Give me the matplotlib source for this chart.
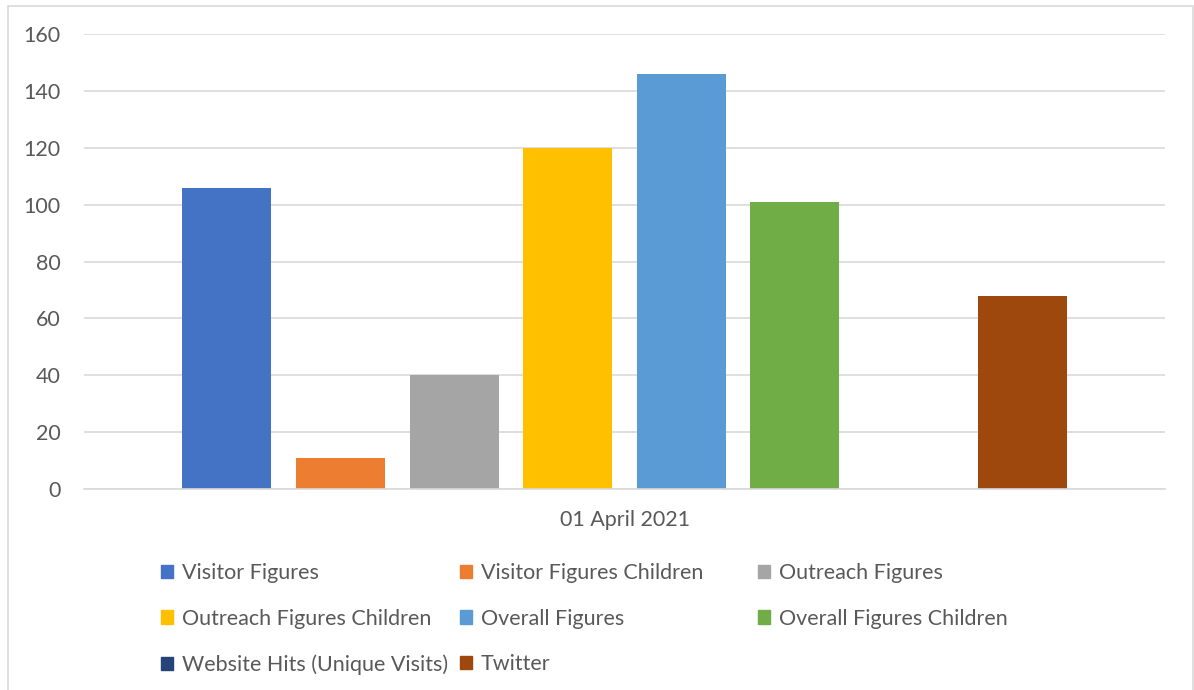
import matplotlib
matplotlib.use('Agg')
import matplotlib.pyplot as plt
from matplotlib.patches import Rectangle, Patch
import numpy as np

# chart data
category = '01 April 2021'
series = ['Visitor Figures', 'Visitor Figures Children', 'Outreach Figures',
          'Outreach Figures Children', 'Overall Figures', 'Overall Figures Children',
          'Website Hits (Unique Visits)', 'Twitter']
values = [106, 11, 40, 120, 146, 101, 0, 68]
colors = ['#4472C4', '#ED7D31', '#A5A5A5', '#FFC000', '#5B9BD5', '#70AD47',
          '#264478', '#9E480E']
yticks = [0, 20, 40, 60, 80, 100, 120, 140, 160]

plt.rcParams['font.family'] = ['Lato', 'DejaVu Sans']
text_color = '#595959'
grid_color = '#d9d9d9'
fs = 15.5

W, H = 1194, 690
fig = plt.figure(figsize=(W / 100, H / 100), dpi=100)
ax = fig.add_axes([84 / W, 1 - 489 / H, 1081 / W, 455 / H])

# clustered bars around the single category at x=0
slot = 113.6 / 1081
bar_w = 89 / 1081
n = len(series)
for i, (name, v, c) in enumerate(zip(series, values, colors)):
    ax.bar((i - (n - 1) / 2) * slot, v, width=bar_w, color=c, label=name, zorder=3)

ax.set_xlim(-0.5, 0.5)
ax.set_ylim(0, 160)
ax.set_yticks(yticks)
ax.set_xticks([0])
ax.set_xticklabels([category])
ax.tick_params(axis='both', length=0, labelsize=fs, colors=text_color)
ax.tick_params(axis='y', pad=17)
ax.tick_params(axis='x', pad=15)
ax.grid(axis='y', color=grid_color, linewidth=1.2, zorder=0)
for s in ['top', 'right', 'left']:
    ax.spines[s].set_visible(False)
ax.spines['bottom'].set_color(grid_color)
ax.spines['bottom'].set_linewidth(1.2)
ax.spines['bottom'].set_zorder(4)

# legend laid out in three columns like the original
cols_x = [161, 460, 758]
rows = [[0, 3, 6], [1, 4, 7], [2, 5]]
for cx, idx in zip(cols_x, rows):
    handles = [Patch(color=colors[i], label=series[i]) for i in idx]
    fig.legend(handles=handles, loc='upper left',
               bbox_to_anchor=(cx / W, 1 - 563 / H), frameon=False,
               fontsize=fs, labelcolor=text_color, handlelength=0.56,
               handleheight=0.56, handletextpad=0.42, labelspacing=1.19,
               borderpad=0, borderaxespad=0)

# outer chart border
fig.patches.append(Rectangle((7.5 / W, -0.05), 1185 / W, 1.05 - 5.5 / H,
                             transform=fig.transFigure, fill=False,
                             edgecolor=grid_color, linewidth=1.2))

fig.savefig('out.png', dpi=100)
